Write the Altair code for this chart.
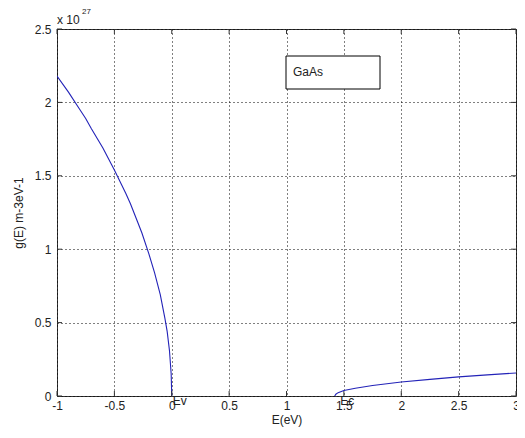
import altair as alt
import pandas as pd

# ---- data (g in units of 1e27 m^-3 eV^-1) ----
E_valence = [-1.0, -0.9, -0.8, -0.75, -0.7, -0.6, -0.5, -0.4, -0.36, -0.3, -0.26,
             -0.2, -0.15, -0.1, -0.06, -0.04, -0.02, -0.005, 0.0]
g_valence = [2.18, 2.07, 1.95, 1.89, 1.82, 1.69, 1.54, 1.38, 1.31, 1.19, 1.11,
             0.97, 0.84, 0.69, 0.53, 0.44, 0.31, 0.15, 0.0]
E_conduction = [1.42, 1.43, 1.45, 1.5, 1.6, 1.75, 2.0, 2.25, 2.5, 2.75, 3.0]
g_conduction = [0.0, 0.012, 0.023, 0.038, 0.053, 0.072, 0.095, 0.113, 0.13, 0.144, 0.157]

x_ticks = [-1, -0.5, 0, 0.5, 1, 1.5, 2, 2.5, 3]
y_ticks = [0, 0.5, 1, 1.5, 2, 2.5]
band_labels = ["Ev", "Ec"]
band_label_E = [0.0, 1.46]
band_label_g = [0.0, 0.0]
series_name = "GaAs"

W, H = 459, 367
FONT = "Liberation Sans"
LINE_COLOR = "#2323b8"
FRAME = "#333333"
TXT = "#222222"

df = pd.concat([
    pd.DataFrame({"E": E_valence, "g": g_valence, "band": "valence"}),
    pd.DataFrame({"E": E_conduction, "g": g_conduction, "band": "conduction"}),
])
df["series"] = series_name

x_scale = alt.Scale(domain=[-1, 3], nice=False, zero=False)
y_scale = alt.Scale(domain=[0, 2.5], nice=False, zero=False)

x_axis = alt.Axis(values=x_ticks, title="E(eV)", labelExpr="datum.value + ''",
                  ticks=False, domain=False, grid=True, gridDash=[1, 3],
                  gridColor="black", gridOpacity=1, labelPadding=4, titlePadding=3,
                  labelFontSize=12, titleFontSize=12, labelFont=FONT, titleFont=FONT,
                  labelColor=TXT, titleColor=TXT, titleFontWeight="normal",
                  labelFlush=False)
y_axis = alt.Axis(values=y_ticks, title="g(E) m-3eV-1", labelExpr="datum.value + ''",
                  ticks=False, domain=False, grid=True, gridDash=[1, 3],
                  gridColor="black", gridOpacity=1, labelPadding=6, titlePadding=9,
                  labelFontSize=12, titleFontSize=12, labelFont=FONT, titleFont=FONT,
                  labelColor=TXT, titleColor=TXT, titleFontWeight="normal",
                  labelFlush=False)

line = alt.Chart(df).mark_line(strokeWidth=1.1, clip=True).encode(
    x=alt.X("E:Q", scale=x_scale, axis=x_axis),
    y=alt.Y("g:Q", scale=y_scale, axis=y_axis),
    color=alt.Color("series:N",
                    scale=alt.Scale(domain=[series_name], range=[LINE_COLOR]),
                    legend=None),
    detail="band:N",
    order="E:Q",
)

xt = pd.DataFrame({"E": x_ticks})
yt = pd.DataFrame({"g": y_ticks})
tick_len = 5
x_ticks_bottom = alt.Chart(xt).mark_rule(color=FRAME, strokeWidth=1).encode(
    x=alt.X("E:Q", scale=x_scale, axis=x_axis), y=alt.value(H), y2=alt.value(H - tick_len))
x_ticks_top = alt.Chart(xt).mark_rule(color=FRAME, strokeWidth=1).encode(
    x=alt.X("E:Q", scale=x_scale, axis=x_axis), y=alt.value(0), y2=alt.value(tick_len))
y_ticks_left = alt.Chart(yt).mark_rule(color=FRAME, strokeWidth=1).encode(
    y=alt.Y("g:Q", scale=y_scale, axis=y_axis), x=alt.value(0), x2=alt.value(tick_len))
y_ticks_right = alt.Chart(yt).mark_rule(color=FRAME, strokeWidth=1).encode(
    y=alt.Y("g:Q", scale=y_scale, axis=y_axis), x=alt.value(W), x2=alt.value(W - tick_len))

labels_df = pd.DataFrame({"E": band_label_E, "g": band_label_g, "lab": band_labels})
band_text = alt.Chart(labels_df).mark_text(
    align="left", baseline="top", fontSize=12, font=FONT, color=TXT, dx=1, dy=0
).encode(x=alt.X("E:Q", scale=x_scale, axis=x_axis),
         y=alt.Y("g:Q", scale=y_scale, axis=y_axis), text="lab:N")

# legend-like box with the series name
box_x0 = round(W * 0.498)
box_x1 = round(W * 0.704)
legend_df = pd.DataFrame({"series": [series_name]})
legend_box = alt.Chart(legend_df).mark_rect(
    fill="white", stroke="black", strokeWidth=1
).encode(x=alt.value(box_x0), x2=alt.value(box_x1), y=alt.value(27), y2=alt.value(60))
legend_text = alt.Chart(legend_df).mark_text(
    align="left", baseline="middle", fontSize=12, font=FONT, color=TXT
).encode(x=alt.value(box_x0 + 7), y=alt.value(43), text="series:N")

exp_base = alt.Chart(pd.DataFrame({"t": ["x 10"]})).mark_text(
    align="left", baseline="alphabetic", fontSize=12, font=FONT, color=TXT
).encode(x=alt.value(0), y=alt.value(-5), text="t:N")
exp_sup = alt.Chart(pd.DataFrame({"t": ["27"]})).mark_text(
    align="left", baseline="alphabetic", fontSize=8, font=FONT, color=TXT
).encode(x=alt.value(25), y=alt.value(-15), text="t:N")

chart = alt.layer(
    line, x_ticks_bottom, x_ticks_top, y_ticks_left, y_ticks_right,
    band_text, legend_box, legend_text, exp_base, exp_sup
).properties(
    width=W, height=H,
    background="white",
    autosize=alt.AutoSizeParams(type="none"),
    padding={"left": 49, "top": 21, "right": 1, "bottom": 33},
).configure_view(
    stroke=FRAME, strokeWidth=1
)

chart.save("out.html", embed_options={"renderer": "svg", "actions": False})
